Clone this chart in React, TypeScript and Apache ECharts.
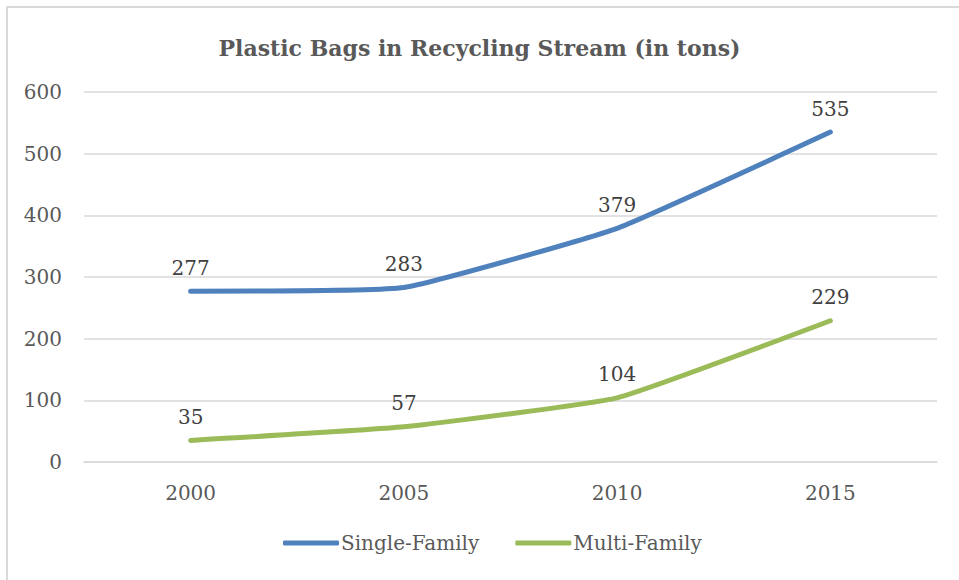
import React, { useEffect, useRef } from "react";
import * as echarts from "echarts";

const years = ["2000", "2005", "2010", "2015"];
const singleFamily = [277, 283, 379, 535];
const multiFamily = [35, 57, 104, 229];
const seriesNames = ["Single-Family", "Multi-Family"];
const titleText = "Plastic Bags in Recycling Stream (in tons)";

const FONT = "'DejaVu Serif', serif";

export default function App() {
  const ref = useRef<HTMLDivElement>(null);
  useEffect(() => {
    const chart = echarts.init(ref.current!, null, { renderer: "svg" });
    const label = {
      show: true,
      position: "top",
      distance: 13,
      fontFamily: FONT,
      fontSize: 20,
      color: "#404040",
    };
    chart.setOption({
      animation: false,
      backgroundColor: "#ffffff",
      title: {
        text: titleText,
        left: "center",
        top: 32,
        textStyle: { fontFamily: FONT, fontSize: 22, fontWeight: "bold", color: "#595959" },
      },
      graphic: [
        {
          type: "rect",
          shape: { x: 7, y: 7, width: 1000, height: 1000 },
          style: { fill: "none", stroke: "#d9d9d9", lineWidth: 2 },
          silent: true,
        },
      ],
      grid: { left: 84, right: 22, top: 92, bottom: 118, containLabel: false },
      legend: {
        bottom: 22,
        left: 278,
        itemWidth: 56,
        itemHeight: 5,
        itemGap: 36,
        icon: "roundRect",
        textStyle: { fontFamily: FONT, fontSize: 20, color: "#595959", padding: [0, 0, 0, -3] },
        data: seriesNames,
      },
      xAxis: {
        type: "category",
        data: years,
        boundaryGap: true,
        axisLine: { show: true, lineStyle: { color: "#d9d9d9", width: 1.5 } },
        axisTick: { show: false },
        axisLabel: { fontFamily: FONT, fontSize: 20, color: "#595959", margin: 21 },
      },
      yAxis: {
        type: "value",
        min: 0,
        max: 600,
        interval: 100,
        axisLine: { show: false },
        axisTick: { show: false },
        axisLabel: { fontFamily: FONT, fontSize: 20, color: "#595959", margin: 22 },
        splitLine: { lineStyle: { color: "#d9d9d9", width: 1.5 } },
      },
      series: [
        {
          name: seriesNames[0],
          type: "line",
          data: singleFamily,
          smooth: 0.12,
          symbol: "circle",
          symbolSize: 1,
          showSymbol: true,
          lineStyle: { color: "#4f81bd", width: 5, cap: "round" },
          itemStyle: { color: "#4f81bd" },
          label,
        },
        {
          name: seriesNames[1],
          type: "line",
          data: multiFamily,
          smooth: 0.12,
          symbol: "circle",
          symbolSize: 1,
          showSymbol: true,
          lineStyle: { color: "#9bbb59", width: 5, cap: "round" },
          itemStyle: { color: "#9bbb59" },
          label,
        },
      ],
    });
    return () => chart.dispose();
  }, []);
  return (
    <div
      ref={ref}
      style={{ position: "fixed", left: 0, top: 0, width: 959, height: 580 }}
    />
  );
}
